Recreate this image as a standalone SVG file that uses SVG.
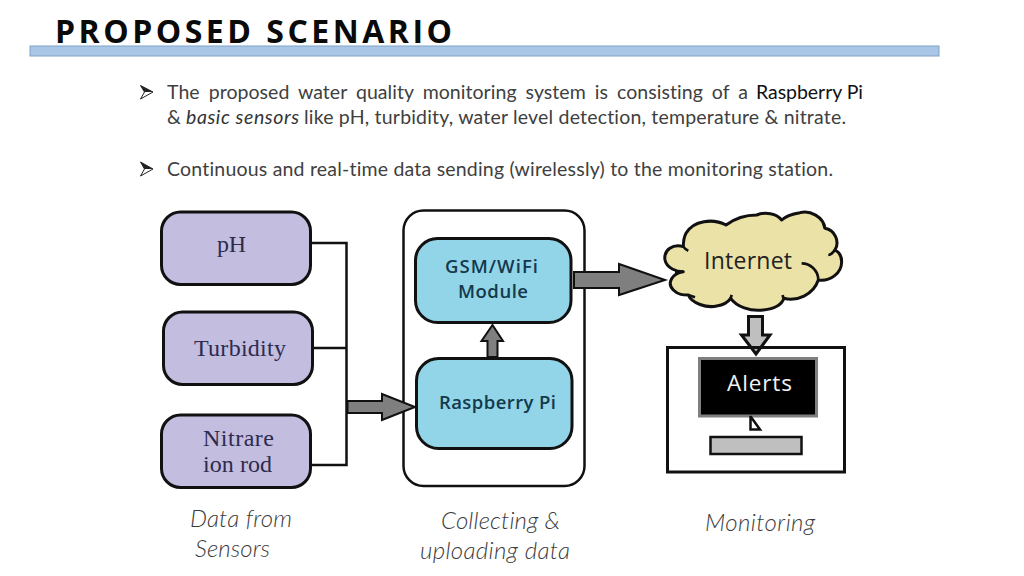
<svg xmlns="http://www.w3.org/2000/svg" width="1024" height="576" viewBox="0 0 1024 576">
<style>
text{font-variant-ligatures:none}
.body{font-family:Lato,"Open Sans",sans-serif;font-size:19.5px;fill:#404040}
.cap{font-family:Lato,"Open Sans",sans-serif;font-size:24px;font-style:italic;font-weight:300;fill:#3c3c3c}
.serif{font-family:"Liberation Serif",serif;font-size:24px;fill:#2d2b4e}
.mod{font-family:"Open Sans",sans-serif;font-size:18.5px;font-weight:600;fill:#14394c}
.sensor{fill:#c3bde0;stroke:#111;stroke-width:3}
.board{fill:#92d5e8;stroke:#111;stroke-width:3}
.wire{fill:none;stroke:#111;stroke-width:2.5}
.fat{fill:#7f7f7f;stroke:#111;stroke-width:2}
.bul{fill:#fff;stroke:#222;stroke-width:1}
</style>
<rect width="1024" height="576" fill="#fff"/>
<rect x="30" y="46" width="909" height="10" fill="#a9c6e6" stroke="#7fa3c7" stroke-width="1"/>
<text x="55" y="42.500" font-family="'Open Sans',sans-serif" font-weight="700" font-size="32" fill="#0a0a0a" textLength="397" lengthAdjust="spacing">PROPOSED SCENARIO</text>
<path class="bul" d="M140.500 85.500 L153 92 L140.500 99 L144.500 92Z"/>
<path d="M140.500 85.500 L153 92 L144.500 92Z" fill="#222"/>
<text class="body" x="167" y="99" textLength="581" lengthAdjust="spacing" style="word-spacing:4px">The proposed water quality monitoring system is consisting of a</text>
<text class="body" x="756" y="99" textLength="107" lengthAdjust="spacing" style="fill:#111">Raspberry Pi</text>
<text class="body" x="167" y="124">&amp;</text>
<text class="body" x="186" y="124" textLength="113" lengthAdjust="spacing" style="font-style:italic;fill:#333">basic sensors</text>
<text class="body" x="304" y="124" textLength="542" lengthAdjust="spacing">like pH, turbidity, water level detection, temperature &amp; nitrate.</text>
<path class="bul" d="M140.500 162 L153 169 L140.500 176 L144.500 169Z"/>
<path d="M140.500 162 L153 169 L144.500 169Z" fill="#222"/>
<text class="body" x="167" y="176" textLength="666" lengthAdjust="spacing">Continuous and real-time data sending (wirelessly) to the monitoring station.</text>

<g id="container"><rect x="403.500" y="210.500" width="181" height="275.500" rx="20" fill="#fff" stroke="#111" stroke-width="2.500"/></g>

<g id="connectors">
<path class="wire" d="M311 243H346.500V465H311M313 348H346.500"/>
<path class="fat" d="M347.500 401H382V394L415 407L382 420V413H347.500Z"/>
<path class="fat" d="M574 272H619V264L665 280L619 295V288H574Z"/>
<path class="fat" d="M487.500 357V341H481.500L492.500 325L503 341H497.500V357Z"/>
<path d="M748.500 316.500H762.500V335H770L756 354L741.500 335H748.500Z" fill="#bfbfbf" stroke="#111" stroke-width="3"/>
</g>

<g id="ph"><rect class="sensor" x="161.500" y="212" width="149" height="72.500" rx="19"/><text class="serif" x="217" y="252" textLength="29" lengthAdjust="spacing">pH</text></g>
<g id="turbidity"><rect class="sensor" x="163.500" y="312" width="149" height="72.500" rx="19"/><text class="serif" x="194" y="356" textLength="92" lengthAdjust="spacing">Turbidity</text></g>
<g id="nitrare"><rect class="sensor" x="161.500" y="415" width="149" height="72.500" rx="19"/><text class="serif" x="203" y="446" textLength="71" lengthAdjust="spacing">Nitrare</text><text class="serif" x="203" y="472" textLength="69" lengthAdjust="spacing">ion rod</text></g>

<g id="gsm"><rect class="board" x="415.500" y="238.500" width="155.500" height="84" rx="22"/><text class="mod" x="445" y="272.500" textLength="93" lengthAdjust="spacing">GSM/WiFi</text><text class="mod" x="458" y="298" textLength="70" lengthAdjust="spacing">Module</text></g>
<g id="raspberry"><rect class="board" x="416.500" y="358.500" width="155.500" height="90" rx="22"/><text class="mod" x="439" y="409" textLength="117" lengthAdjust="spacing">Raspberry Pi</text></g>

<g id="internet">
<path transform="translate(650 200) scale(.3333)" fill="#ebe2a8" stroke="#111" stroke-width="9" stroke-linejoin="round" d="M100 140C70 130 40 150 45 180C50 205 80 215 100 215C65 220 50 250 70 270C85 285 100 285 115 285C125 310 170 325 200 318C220 315 235 305 242 295C260 320 300 335 340 330C370 327 395 315 402 295C440 305 490 285 505 240C540 245 575 220 575 185C575 165 565 155 555 150C570 125 555 90 525 85C520 50 480 30 450 38C425 42 405 50 395 60C380 40 345 35 320 45C290 45 255 55 228 75C190 55 130 60 108 100C100 115 100 130 100 140Z"/>
<path transform="translate(650 200) scale(.3333)" fill="none" stroke="#111" stroke-width="8" d="M455 190C480 190 505 210 505 240M535 165C545 165 550 155 555 150M100 140C105 148 110 150 115 152M100 215L75 215M115 285L135 292M242 295L245 285M400 295L398 285M525 85L520 72"/>
<text x="704" y="269" font-family="'Open Sans',sans-serif" font-size="23" fill="#222" textLength="88" lengthAdjust="spacing">Internet</text>
</g>

<g id="monitor">
<rect x="667.500" y="347.500" width="177" height="124.500" fill="none" stroke="#111" stroke-width="3"/>
<rect x="699.500" y="358.500" width="117" height="57.500" fill="#000" stroke="#7f7f7f" stroke-width="3"/>
<text x="727" y="391" font-family="'Open Sans',sans-serif" font-size="22.500" fill="#f2f2f2" textLength="65" lengthAdjust="spacing">Alerts</text>
<path d="M750.500 417V429.500H760L751 417Z" fill="#fff" stroke="#111" stroke-width="2.500"/>
<rect x="710.500" y="437" width="91" height="17" fill="#bfbfbf" stroke="#111" stroke-width="2.500"/>
</g>

<text class="cap" x="190" y="527" textLength="102" lengthAdjust="spacing">Data from</text>
<text class="cap" x="195" y="557" textLength="75" lengthAdjust="spacing">Sensors</text>
<text class="cap" x="441" y="529" textLength="119" lengthAdjust="spacing">Collecting &amp;</text>
<text class="cap" x="420" y="559" textLength="150" lengthAdjust="spacing">uploading data</text>
<text class="cap" x="705" y="531" textLength="110" lengthAdjust="spacing">Monitoring</text>
</svg>
